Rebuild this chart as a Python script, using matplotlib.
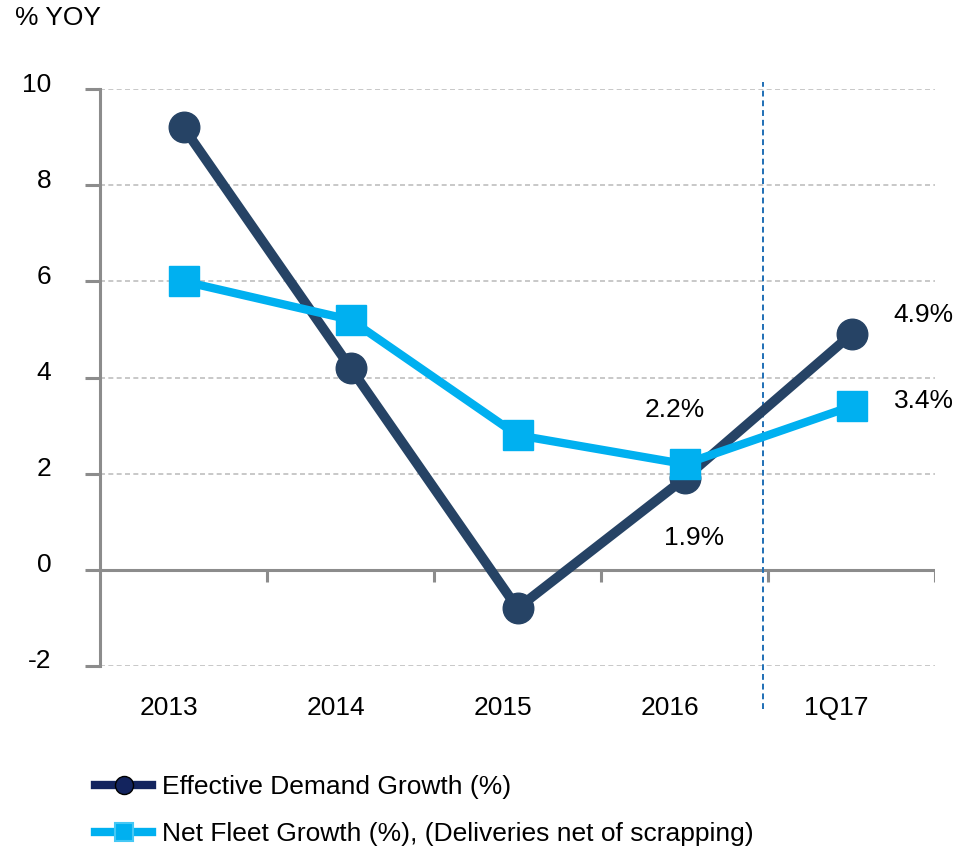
import matplotlib

matplotlib.use("Agg")

from matplotlib import pyplot as plt
from matplotlib import transforms
from matplotlib.lines import Line2D
import numpy as np

plt.rcParams["font.family"] = ["Liberation Sans", "DejaVu Sans"]

CATEGORIES = ["2013", "2014", "2015", "2016", "1Q17"]
DEMAND_GROWTH = [9.2, 4.2, -0.8, 1.9, 4.9]
FLEET_GROWTH = [6.0, 5.2, 2.8, 2.2, 3.4]
Y_TICKS = [-2, 0, 2, 4, 6, 8, 10]
SERIES_NAMES = ["Effective Demand Growth (%)", "Net Fleet Growth (%), (Deliveries net of scrapping)"]

DEMAND_COLOR = "#264365"
FLEET_COLOR = "#00b0f0"
AXIS_COLOR = "#8c8c8c"
GRID_COLOR = "#bfbfbf"
FONT_SIZE = 19

W, H = 955, 851
figure = plt.figure(figsize=(W / 100, H / 100), dpi=100)
axis = figure.add_axes([100 / W, 1 - 666 / H, 835 / W, 577 / H])

x = np.arange(len(CATEGORIES))
axis.set_xlim(-0.5, len(CATEGORIES) - 0.5)
axis.set_ylim(-2, 10)

for value in Y_TICKS:
    if value != 0:
        axis.axhline(value, color=GRID_COLOR, linestyle=(0, (3, 2)), linewidth=1.2, zorder=0)

# category axis drawn at zero with boundary ticks
axis.axhline(0, color=AXIS_COLOR, linewidth=2.2, zorder=1)
boundaries = np.arange(len(CATEGORIES) + 1) - 0.5
axis.vlines(boundaries[1:], -0.25, 0, color=AXIS_COLOR, linewidth=2.2, zorder=1)

axis.plot(x, DEMAND_GROWTH, color=DEMAND_COLOR, linewidth=7, marker="o", markersize=22,
          solid_capstyle="round", zorder=3)
axis.plot(x, FLEET_GROWTH, color=FLEET_COLOR, linewidth=6, marker="s", markersize=21, zorder=4)

axis.axvline(3.47, ymin=-0.075, ymax=1.012, color="#1f6fb5", linestyle=(0, (3, 2)),
             linewidth=1.4, clip_on=False, zorder=2)

label_style = dict(textcoords="offset points", ha="center", va="center", fontsize=FONT_SIZE)
axis.annotate("4.9%", (x[4], DEMAND_GROWTH[4]), xytext=(52, 14), **label_style)
axis.annotate("3.4%", (x[4], FLEET_GROWTH[4]), xytext=(52, 4), **label_style)
axis.annotate("2.2%", (x[3], FLEET_GROWTH[3]), xytext=(-7, 39), **label_style)
axis.annotate("1.9%", (x[3], DEMAND_GROWTH[3]), xytext=(7, -43), **label_style)

axis.spines[["top", "right", "bottom"]].set_visible(False)
axis.spines["left"].set_color(AXIS_COLOR)
axis.spines["left"].set_linewidth(2.2)
axis.set_yticks(Y_TICKS)
axis.set_yticklabels([str(v) for v in Y_TICKS], fontsize=FONT_SIZE)
axis.tick_params(axis="y", length=11, width=2.2, color=AXIS_COLOR, pad=24)
lift = transforms.ScaledTranslation(0, 0.07, figure.dpi_scale_trans)
for tick_label in axis.get_yticklabels():
    tick_label.set_transform(tick_label.get_transform() + lift)
axis.set_xticks([])

shift = transforms.ScaledTranslation(-0.15, 0, figure.dpi_scale_trans)
label_transform = transforms.blended_transform_factory(axis.transData, axis.transAxes) + shift
for position, name in zip(x, CATEGORIES):
    axis.text(position, -0.073, name, transform=label_transform, ha="center", va="center",
              fontsize=FONT_SIZE)

figure.text(15 / W, 1 - 18 / H, "% YOY", ha="left", va="center", fontsize=FONT_SIZE)

handles = [
    Line2D([], [], color="#13245e", linewidth=6, marker="o", markersize=13,
           markerfacecolor="#13245e", markeredgecolor="black", markeredgewidth=1),
    Line2D([], [], color=FLEET_COLOR, linewidth=6, marker="s", markersize=13,
           markerfacecolor=FLEET_COLOR, markeredgecolor="#45c8f5", markeredgewidth=1.5),
]
figure.legend(handles, SERIES_NAMES, loc="upper left", bbox_to_anchor=(95 / W, 1 - 775 / H),
              frameon=False, fontsize=FONT_SIZE, handlelength=2.16, handletextpad=0.38,
              labelspacing=0.89, borderpad=0, borderaxespad=0)

figure.savefig("out.png", dpi=100)
plt.close(figure)
